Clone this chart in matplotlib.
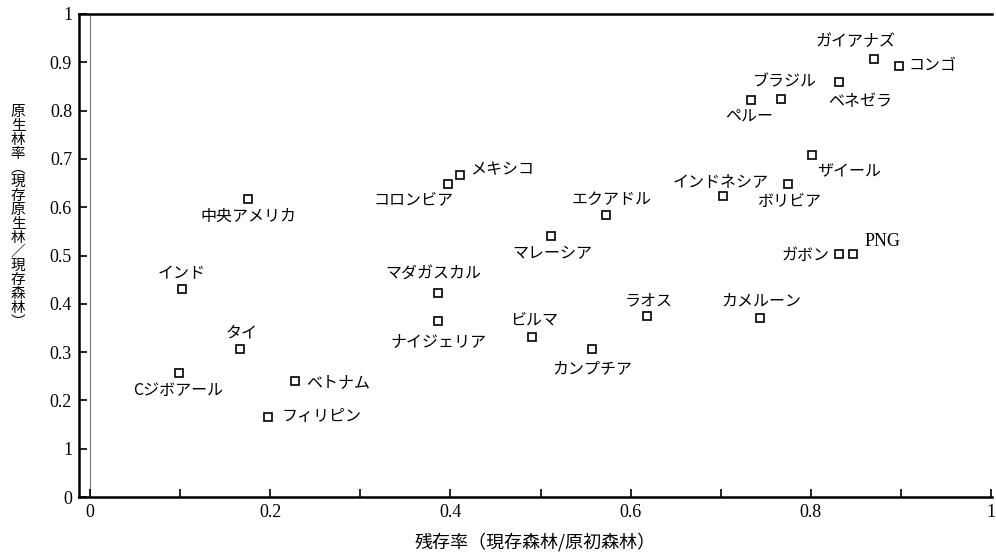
import matplotlib
matplotlib.use("Agg")
import matplotlib.pyplot as plt

plt.rcParams['font.family'] = ['Noto Sans CJK JP', 'DejaVu Sans']

# data
names = ['中央アメリカ', 'コロンビア', 'メキシコ', 'ガイアナズ', 'コンゴ', 'ブラジル',
         'ペルー', 'ベネゼラ', 'ザイール', 'インドネシア', 'ボリビア', 'エクアドル',
         'マレーシア', 'ガボン', 'PNG', 'インド', 'マダガスカル', 'ナイジェリア',
         'タイ', 'Cジボアール', 'ベトナム', 'フィリピン', 'ビルマ', 'カンプチア',
         'ラオス', 'カメルーン']
remain = [0.175, 0.397, 0.411, 0.870, 0.898, 0.767,
          0.733, 0.831, 0.801, 0.703, 0.775, 0.573,
          0.512, 0.831, 0.847, 0.102, 0.386, 0.386,
          0.167, 0.099, 0.228, 0.198, 0.490, 0.557,
          0.618, 0.744]
primary = [0.616, 0.649, 0.667, 0.907, 0.892, 0.824,
           0.821, 0.860, 0.708, 0.623, 0.649, 0.584,
           0.541, 0.503, 0.503, 0.430, 0.423, 0.364,
           0.306, 0.257, 0.240, 0.166, 0.332, 0.306,
           0.375, 0.371]

xticks = [0, 0.1, 0.2, 0.3, 0.4, 0.5, 0.6, 0.7, 0.8, 0.9, 1.0]
xticklabels = ['0', '', '0.2', '', '0.4', '', '0.6', '', '0.8', '', '1']
yticks = [0, 0.1, 0.2, 0.3, 0.4, 0.5, 0.6, 0.7, 0.8, 0.9, 1.0]
yticklabels = ['0', '1', '0.2', '0.3', '0.4', '0.5', '0.6', '0.7', '0.8', '0.9', '1']

# label offsets in pixels (dx, dy)
offs = {
    '中央アメリカ': (1, -17), 'コロンビア': (-34, -16), 'メキシコ': (42, 5),
    'ガイアナズ': (-18, 17), 'コンゴ': (33, 0), 'ブラジル': (4, 17),
    'ペルー': (-1, -17), 'ベネゼラ': (21, -20), 'ザイール': (37, -17),
    'インドネシア': (-3, 14), 'ボリビア': (1, -18), 'エクアドル': (5, 15),
    'マレーシア': (1, -18), 'ガボン': (-33, -1), 'PNG': (29, 13),
    'インド': (0, 16), 'マダガスカル': (-4, 18), 'ナイジェリア': (1, -20),
    'タイ': (1, 16), 'Cジボアール': (-1, -18), 'ベトナム': (43, -1),
    'フィリピン': (53, 0), 'ビルマ': (2, 17), 'カンプチア': (0, -19),
    'ラオス': (2, 15), 'カメルーン': (1, 17),
}

fig = plt.figure(figsize=(9.96, 5.54), dpi=100)
ax = fig.add_axes([79/996, 1 - 497/554, 913/996, 483/554])

ax.axvline(0, color='#777777', lw=0.8, zorder=1)
ax.plot(remain, primary, 's', ms=6, mfc='white', mec='black', mew=1.2, zorder=3)

for n, x, y in zip(names, remain, primary):
    dx, dy = offs[n]
    if n == 'PNG':
        fam = ['Liberation Serif']
        fs = 13
    else:
        fam = ['Noto Sans CJK JP', 'DejaVu Sans']
        fs = 11.5
    ax.annotate(n, (x, y), xytext=(dx, dy), textcoords='offset pixels',
                ha='center', va='center', fontsize=fs, family=fam)

ax.set_xlim(-0.0122, 1.001)
ax.set_ylim(0, 1)
ax.set_xticks(xticks)
ax.set_xticklabels(xticklabels)
ax.set_yticks(yticks)
ax.set_yticklabels(yticklabels)
for lab in ax.get_xticklabels() + ax.get_yticklabels():
    lab.set_family('Liberation Serif')
    lab.set_fontsize(13)
ax.tick_params(direction='in', length=6, width=1.2, pad=5)

ax.spines['right'].set_visible(False)
for s in ['left', 'bottom', 'top']:
    ax.spines[s].set_linewidth(1.8)

ax.set_xlabel('残存率（現存森林/原初森林）', fontsize=13, labelpad=8)
ylab = '\n'.join(list('原生林率︵現存原生林／現存森林︶'))
fig.text(18/996, 1 - 217/554, ylab, ha='center', va='center',
         fontsize=10.5, linespacing=1.0, family=['Noto Sans CJK JP', 'DejaVu Sans'])

fig.savefig('out.png', dpi=100)
